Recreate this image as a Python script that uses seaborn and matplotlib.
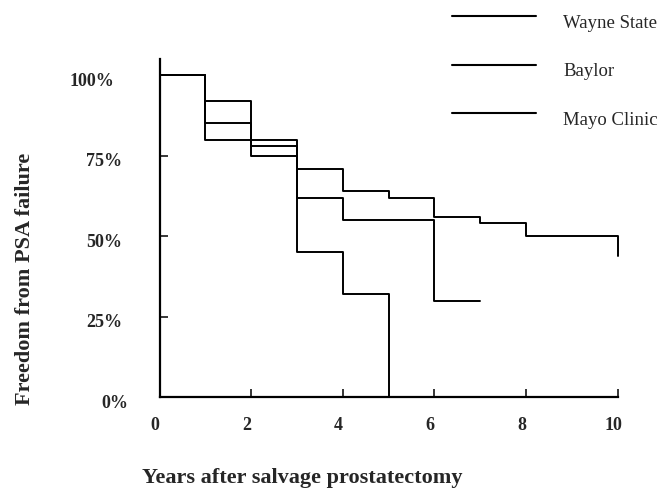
import matplotlib
matplotlib.use("Agg")
import matplotlib.pyplot as plt
import matplotlib.transforms as mtransforms
import pandas as pd
import seaborn as sns

# Kaplan-Meier style freedom from PSA failure by institution
centers = ["Wayne State", "Baylor", "Mayo Clinic"]
wayne_years = [0, 1, 2, 3, 4, 5]
wayne_free = [100, 80, 80, 45, 32, 0]
baylor_years = [0, 1, 2, 3, 4, 6, 7]
baylor_free = [100, 85, 78, 62, 55, 30, 30]
mayo_years = [0, 1, 2, 3, 4, 5, 6, 7, 8, 10]
mayo_free = [100, 92, 75, 71, 64, 62, 56, 54, 50, 44]

x_ticks = [0, 2, 4, 6, 8, 10]
y_ticks = [0, 25, 50, 75, 100]
y_tick_labels = ["0%", "25%", "50%", "75%", "100%"]

frames = []
for name, yrs, vals in zip(centers,
                           [wayne_years, baylor_years, mayo_years],
                           [wayne_free, baylor_free, mayo_free]):
    frames.append(pd.DataFrame({"year": yrs, "free": vals, "center": name}))
df = pd.concat(frames, ignore_index=True)

sns.set_theme(style="white")
plt.rcParams["font.family"] = ["Liberation Serif", "DejaVu Serif"]

W, H = 659, 489
fig = plt.figure(figsize=(W / 100, H / 100), dpi=100)
x0, x1, y0, y1 = 159.5, 617.7, 398.3, 60.0
ax = fig.add_axes([x0 / W, 1 - y0 / H, (x1 - x0) / W, (y0 - y1) / H])

sns.lineplot(data=df, x="year", y="free", hue="center", hue_order=centers,
             palette={c: "black" for c in centers}, estimator=None, sort=False,
             drawstyle="steps-post", linewidth=1.4, legend=False, ax=ax)
for ln in ax.get_lines():
    ln.set_clip_on(False)

ax.set_xlim(0, 10)
ax.set_ylim(0, 105)
ax.set_xlabel("")
ax.set_ylabel("")
for side in ["top", "right"]:
    ax.spines[side].set_visible(False)
for side in ["left", "bottom"]:
    ax.spines[side].set_linewidth(1.6)
    ax.spines[side].set_color("black")

ax.set_xticks(x_ticks)
ax.set_xticklabels([str(v) for v in x_ticks])
ax.set_yticks(y_ticks)
ax.set_yticklabels(y_tick_labels)
ax.tick_params(axis="x", direction="in", length=5.8, width=1.1, color="black",
               pad=13.5, labelsize=13, bottom=True)
ax.tick_params(axis="y", direction="in", length=5.8, width=1.1, color="black",
               pad=27, labelsize=13, left=True)
for lab in ax.get_xticklabels():
    lab.set_fontweight("bold")
    lab.set_transform(lab.get_transform() +
                      mtransforms.ScaledTranslation(-4.5 / 100, 0, fig.dpi_scale_trans))
y_nudge = {"100%": -8, "0%": 6}
for lab in ax.get_yticklabels():
    lab.set_fontweight("bold")
    dx = y_nudge.get(lab.get_text(), 0)
    lab.set_transform(lab.get_transform() +
                      mtransforms.ScaledTranslation(dx / 100, -3 / 100, fig.dpi_scale_trans))

fig.text(25 / W, 1 - 278.5 / H, "Freedom from PSA failure", rotation=90,
         ha="center", va="center", fontsize=16, fontweight="bold")
fig.text(302 / W, 1 - 483 / H, "Years after salvage prostatectomy",
         ha="center", va="baseline", fontsize=16, fontweight="bold")

leg = fig.legend(ax.get_lines(), centers, loc="upper left",
                 bbox_to_anchor=(451.7 / W, 1 - 14.5 / H), frameon=False,
                 fontsize=13.5, handlelength=4.48, handletextpad=1.47,
                 labelspacing=1.68, borderpad=0, borderaxespad=0)
for hl in leg.get_lines():
    hl.set_linewidth(1.5)
    # sit the sample line a little above the label's centre
    hl.set_ydata([y + 3.0 for y in hl.get_ydata()])

fig.savefig("out.png", dpi=100, facecolor="white")
